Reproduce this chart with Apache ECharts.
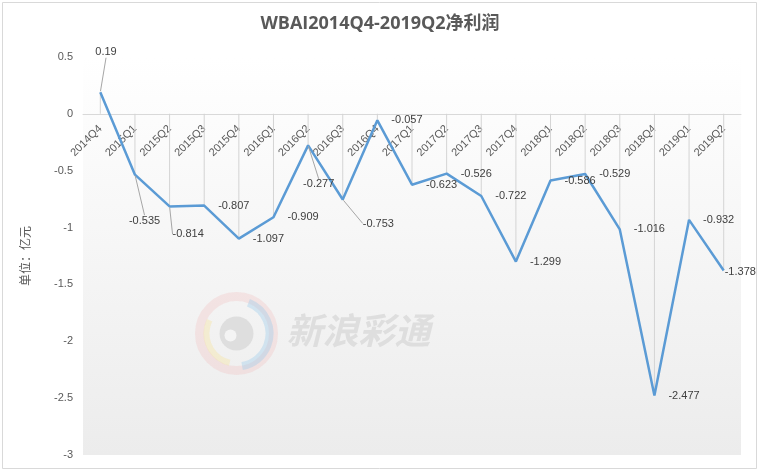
<!DOCTYPE html>
<html><head><meta charset="utf-8">
<script src="https://cdn.jsdelivr.net/npm/echarts@6/dist/echarts.min.js"></script>
<style>html,body{margin:0;padding:0;background:#fff}#c{width:760px;height:471px}</style>
</head><body><div id="c"></div>
<script>
const categories = ['2014Q4','2015Q1','2015Q2','2015Q3','2015Q4','2016Q1','2016Q2','2016Q3','2016Q4','2017Q1','2017Q2','2017Q3','2017Q4','2018Q1','2018Q2','2018Q3','2018Q4','2019Q1','2019Q2'];
const netProfit = [0.19,-0.535,-0.814,-0.807,-1.097,-0.909,-0.277,-0.753,-0.057,-0.623,-0.526,-0.722,-1.299,-0.586,-0.529,-1.016,-2.477,-0.932,-1.378];
const yTicks = {min:-3, max:0.5, interval:0.5};
// label offsets (dx, dy) from default 'right' placement, by index; leader line for those marked true
const labelShift = {0:[-19,-40,true],1:[-20,46,true],2:[-11,28,true],6:[-19,39,true],7:[6,24,true],18:[-13,1,false]};

const chart = echarts.init(document.getElementById('c'), null, {renderer:'canvas'});
const font = '"Liberation Sans", Arial, sans-serif';
const gridL = 83, gridR = 19, gridT = 57, gridB = 16;
const lineData = netProfit.map((v,i)=>({value:v, labelLine:{show: !!(labelShift[i] && labelShift[i][2])}}));
chart.setOption({
  backgroundColor:'#fff',
  animation:false,
  title:{text:'WBAI2014Q4-2019Q2净利润', left:'center', top:10,
    textStyle:{fontFamily:'"Open Sans","Noto Sans CJK SC",sans-serif', fontSize:18, fontWeight:'bold', color:'#595959'}},
  graphic:[
    {type:'rect', shape:{x:2.5,y:2.5,width:754,height:466}, style:{fill:null, stroke:'#d9d9d9', lineWidth:1}, z:-10, silent:true},
    {type:'group', left:195, top:292, z:-5, silent:true, children:[
      {type:'circle', shape:{cx:42,cy:41,r:37}, style:{fill:null, stroke:'rgba(240,170,170,0.22)', lineWidth:9}},
      {type:'arc', shape:{cx:42,cy:41,r:33,startAngle:-1.2,endAngle:1.4}, style:{fill:null, stroke:'rgba(150,200,235,0.35)', lineWidth:8}},
      {type:'arc', shape:{cx:42,cy:41,r:30,startAngle:1.8,endAngle:3.6}, style:{fill:null, stroke:'rgba(245,225,150,0.35)', lineWidth:6}},
      {type:'circle', shape:{cx:42,cy:41,r:17}, style:{fill:'#dedede'}},
      {type:'circle', shape:{cx:36,cy:43,r:6}, style:{fill:'#f4f4f4'}},
      {type:'text', left:92, top:20, style:{text:'新浪彩通', font:'italic bold 36px "Noto Sans CJK SC", sans-serif', fill:'#dedede'}}
    ]}
  ],
  grid:[
    {left:gridL, right:gridR, top:gridT, bottom:gridB, show:true, borderWidth:0,
      backgroundColor:new echarts.graphic.LinearGradient(0,0,0,1,[{offset:0,color:'#ffffff'},{offset:1,color:'#ececec'}])},
    {left:gridL, right:gridR, top:gridT, height:56}
  ],
  xAxis:[
    {type:'category', data:categories, boundaryGap:true, gridIndex:0,
      axisLine:{onZero:true, lineStyle:{color:'#d9d9d9', width:1}},
      axisTick:{show:false}, axisLabel:{show:false}, splitLine:{show:false}},
    {type:'category', data:categories, boundaryGap:true, gridIndex:1,
      axisLine:{show:false}, axisTick:{show:false}, splitLine:{show:false},
      axisLabel:{rotate:45, color:'#595959', fontSize:11, fontFamily:font, margin:14, interval:0}}
  ],
  yAxis:[
    {type:'value', gridIndex:0, min:yTicks.min, max:yTicks.max, interval:yTicks.interval,
      name:'单位：亿元', nameLocation:'middle', nameGap:52, nameRotate:90,
      nameTextStyle:{color:'#595959', fontSize:12, fontFamily:'"Noto Sans CJK SC", serif'},
      axisLine:{show:false}, axisTick:{show:false}, splitLine:{show:false},
      axisLabel:{color:'#595959', fontSize:11, fontFamily:font, margin:10}},
    {type:'value', gridIndex:1, min:0, max:1, show:false}
  ],
  series:[
    {type:'bar', data:netProfit, barWidth:1, silent:true, z:1, xAxisIndex:0, yAxisIndex:0,
      itemStyle:{color:'#d4d4d4'}},
    {type:'line', data:lineData, xAxisIndex:0, yAxisIndex:0, z:3,
      symbol:'circle', symbolSize:2, showSymbol:true, itemStyle:{color:'rgba(0,0,0,0)'},
      lineStyle:{color:'#5b9bd5', width:2.5},
      label:{show:true, position:'right', distance:13, color:'#404040', fontSize:11, fontFamily:font},
      labelLine:{show:true, lineStyle:{color:'#a6a6a6', width:1}},
      labelLayout:function(p){ const s = labelShift[p.dataIndex]; return s ? {dx:s[0], dy:s[1]} : {}; }}
  ]
});
</script></body></html>
